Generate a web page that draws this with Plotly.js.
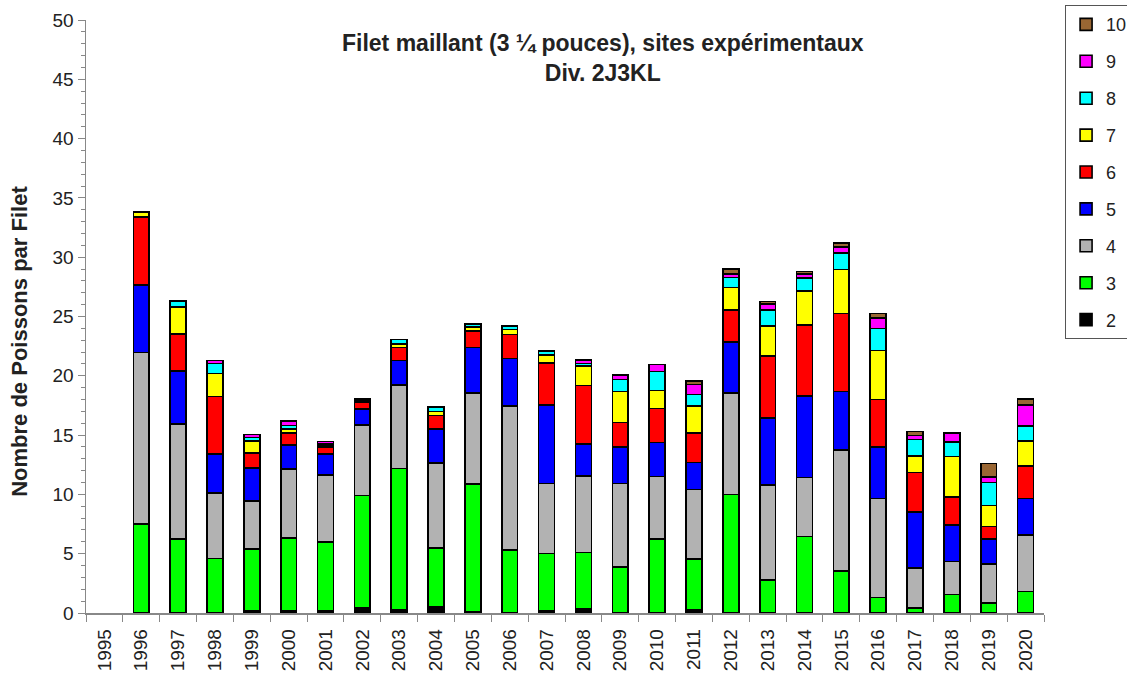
<!DOCTYPE html>
<html><head><meta charset="utf-8">
<script src="https://cdn.plot.ly/plotly-3.0.1.min.js"></script>
<style>html,body{margin:0;padding:0;background:#fff}#c{width:1127px;height:682px}</style>
</head><body><div id="c"></div>
<script>
const years = ['1995','1996','1997','1998','1999','2000','2001','2002','2003','2004','2005','2006','2007','2008','2009','2010','2011','2012','2013','2014','2015','2016','2017','2018','2019','2020'];
const age2  = [0,0,0,0,0.2,0.2,0.2,0.4,0.3,0.5,0.1,0,0.2,0.35,0,0,0.3,0,0,0,0,0,0,0,0,0];
const age3  = [0,7.5,6.25,4.6,5.2,6.1,5.8,9.5,11.9,5.0,10.8,5.3,4.83,4.75,3.9,6.24,4.25,10.0,2.78,6.44,3.54,1.32,0.4,1.57,0.82,1.8];
const age4  = [0,14.45,9.7,5.5,4.05,5.85,5.65,5.95,7.0,7.15,7.65,12.15,5.9,6.45,7.03,5.26,5.88,8.57,8.01,5.0,10.2,8.35,3.37,2.76,3.31,4.78];
const age5  = [0,5.7,4.45,3.3,2.8,2.0,1.75,1.35,2.1,2.85,3.85,4.0,6.6,2.7,3.09,2.86,2.27,4.26,5.63,6.88,4.92,4.35,4.77,3.09,2.11,3.09];
const age6  = [0,5.75,3.1,4.85,1.25,1.05,0.6,0.55,1.1,1.15,1.4,2.03,3.56,4.92,2.03,2.9,2.5,2.72,5.25,5.96,6.61,3.98,3.32,2.34,1.04,2.75];
const age7  = [0,0.4,2.3,1.95,1.0,0.3,0.15,0.15,0.3,0.35,0.3,0.42,0.65,1.66,2.61,1.49,2.25,1.88,2.53,2.87,3.71,4.12,1.4,3.42,1.77,2.08];
const age8  = [0,0,0.5,0.85,0.3,0.3,0.15,0.15,0.35,0.35,0.25,0.28,0.35,0.22,1.04,1.6,0.99,0.87,1.35,1.12,1.35,1.88,1.38,1.26,1.97,1.27];
const age9  = [0,0,0,0.25,0.25,0.4,0.15,0,0,0,0,0,0,0.28,0.37,0.62,0.84,0.28,0.5,0.31,0.55,0.85,0.31,0.76,0.47,1.77];
const age10 = [0,0,0,0,0,0,0,0,0,0,0,0,0,0,0,0,0.28,0.42,0.2,0.2,0.3,0.42,0.34,0,1.13,0.48];
const seriesNames = ['2','3','4','5','6','7','8','9','10'];
const seriesData = [age2,age3,age4,age5,age6,age7,age8,age9,age10];
const seriesColors = ['#000000','#00ff00','#b2b2b2','#0000ff','#ff0000','#ffff00','#00ffff','#ff00ff','#996633'];

const traces = seriesNames.map((n,i)=>({
  type:'bar', name:n, legendgroup:'g'+n, legendrank:100 - i, x:years,
  y:seriesData[i].map(v => v > 0 ? v : null),
  width:0.43,
  marker:{color:seriesColors[i], line:{color:'#000', width:1.6}},
  hoverinfo:'skip'
}));

const font = 'Liberation Sans, Arial, sans-serif';
const layout = {
  barmode:'stack',
  width:1127, height:682,
  margin:{l:86, r:83, t:20, b:69, pad:0, autoexpand:false},
  paper_bgcolor:'#fff', plot_bgcolor:'#fff',
  font:{family:font, color:'#111'},
  showlegend:true,
  legend:{traceorder:'grouped', tracegroupgap:10.5, x:1.022, xanchor:'left', y:1.025, yanchor:'top',
    bordercolor:'#555', borderwidth:1, bgcolor:'#fff',
    font:{family:font, size:18, color:'#222'}, itemwidth:30},
  xaxis:{type:'category', tickangle:-90, tickson:'boundaries', ticks:'outside', ticklen:7,
    ticklabelstandoff:7,
    tickcolor:'#888', showline:true, linecolor:'#888', linewidth:1.5, showgrid:false,
    tickfont:{family:font, size:19, color:'#222'}, range:[-0.5,25.5]},
  yaxis:{range:[0,50], dtick:5, ticks:'outside', ticklen:7, tickcolor:'#888',
    showline:true, linecolor:'#888', linewidth:1.5, showgrid:false, zeroline:false,
    minor:{dtick:1, ticks:'outside', ticklen:4, tickcolor:'#888', showgrid:false},
    tickfont:{family:font, size:19, color:'#222'}},
  annotations:[
    {xref:'paper', yref:'paper', x:0.54, y:0.9865, xanchor:'center', yanchor:'top',
     text:'<b>Filet maillant (3 ¼ pouces), sites expérimentaux<br>Div. 2J3KL</b>', showarrow:false,
     font:{family:font, size:23, color:'#222'}},
    {xref:'paper', yref:'paper', x:-0.0689, y:0.459, xanchor:'center', yanchor:'middle', textangle:-90,
     text:'<b>Nombre de Poissons par Filet</b>', showarrow:false,
     font:{family:font, size:22, color:'#222'}}
  ]
};
Plotly.newPlot('c', traces, layout, {staticPlot:true});
</script></body></html>
